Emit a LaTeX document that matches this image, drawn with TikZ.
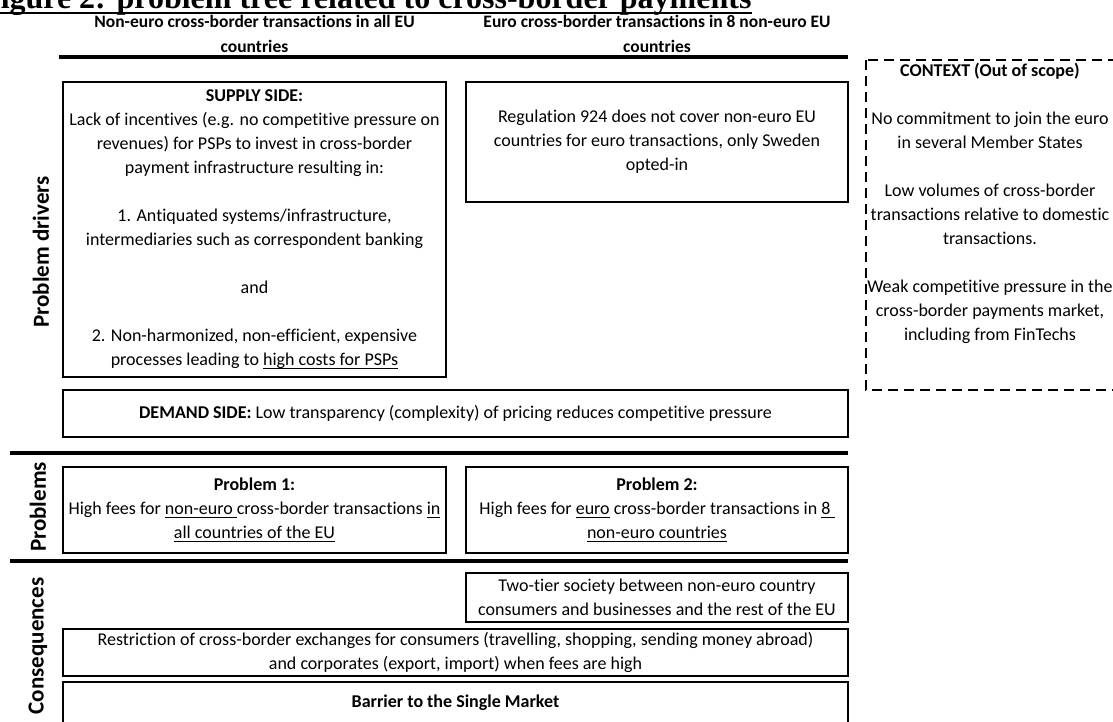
\documentclass[tikz,border=0pt]{standalone}
\usepackage{fontspec}
\setmainfont{Carlito}[Ligatures=NoCommon]
\newfontfamily\titlefont{Liberation Serif}
\usetikzlibrary{calc}
\newsavebox{\myulbox}
\newcommand\myul[1]{\sbox\myulbox{#1}\rlap{\rule[-3.5pt]{\wd\myulbox}{1.4pt}}\usebox\myulbox}
\begin{document}
\begin{tikzpicture}[x=1pt,y=-1pt,
  font=\fontsize{18}{24}\selectfont,
  box/.style={draw, line width=2pt, inner sep=0pt, align=center},
  sepline/.style={line width=3.5pt},
  side/.style={rotate=90, font=\fontsize{23}{28}\selectfont\bfseries},
  head/.style={align=center, font=\fontsize{17.5}{25}\selectfont\bfseries},
  ctx/.style={draw, line width=2pt, dash pattern=on 10pt off 6pt}]
\useasboundingbox (0,0) rectangle (1113,722);

% title (cut by the page edge)
\node[anchor=base west, inner sep=0pt, font=\fontsize{32}{36}\selectfont\titlefont\bfseries] (title) at (-19,9) {Figure 2: problem tree related to cross-border payments};
\draw[line width=2pt] ($(title.base west)+(0,4)$) -- ($(title.base east)+(0,4)$);

% column headers
\node[head] (h1) at (254.5,34) {Non-euro cross-border transactions in all EU\\countries};
\node[head] (h2) at (657,34) {Euro cross-border transactions in 8 non-euro EU\\countries};

% separators
\draw[sepline] (59,57) -- (848,57);
\draw[sepline] (10,453) -- (848,453);
\draw[sepline] (10,561) -- (848,561);

% side labels
\node[side] (lbl1) at (41,252) {Problem drivers};
\node[side] (lbl2) at (38,507) {Problems};
\node[side] (lbl3) at (38,646) {Consequences};

% problem drivers
\node[box, minimum width=383pt, minimum height=295pt] (supply) at (254.5,229.5) {\textbf{SUPPLY SIDE:}\\
Lack of incentives (e.g. no competitive pressure on\\
revenues) for PSPs to invest in cross-border\\
payment infrastructure resulting in:\\[24pt]
1. Antiquated systems/infrastructure,\\
intermediaries such as correspondent banking\\[24pt]
and\\[24pt]
2. Non-harmonized, non-efficient, expensive\\
processes leading to \myul{high costs for PSPs}};

\node[box, minimum width=382pt, minimum height=120pt] (reg) at (657,142) {Regulation 924 does not cover non-euro EU\\
countries for euro transactions, only Sweden\\
opted-in};

\draw[ctx] (866,60) rectangle (1118,390);
\node[align=center] (context) at (990,203) {\textbf{CONTEXT (Out of scope)}\\[24pt]
No commitment to join the euro\\
in several Member States\\[24pt]
Low volumes of cross-border\\
transactions relative to domestic\\
transactions.\\[24pt]
Weak competitive pressure in the\\
cross-border payments market,\\
including from FinTechs};

\node[box, minimum width=785pt, minimum height=47pt] (demand) at (455.5,413.5) {\textbf{DEMAND SIDE:} Low transparency (complexity) of pricing reduces competitive pressure};

% problems
\node[box, minimum width=383pt, minimum height=86pt] (p1) at (254.5,510) {\textbf{Problem 1:}\\
High fees for \myul{non-euro }cross-border transactions \myul{in}\\
\myul{all countries of the EU}};
\node[box, minimum width=382pt, minimum height=86pt] (p2) at (657,510) {\textbf{Problem 2:}\\
High fees for \myul{euro} cross-border transactions in \myul{8 }\\
\myul{non-euro countries}};

% consequences
\node[box, minimum width=382pt, minimum height=49pt] (tier) at (657,597.5) {Two-tier society between non-euro country\\
consumers and businesses and the rest of the EU};
\node[box, minimum width=785pt, minimum height=47pt] (restr) at (455.5,652.5) {Restriction of cross-border exchanges for consumers (travelling, shopping, sending money abroad)\\
and corporates (export, import) when fees are high};
\node[box, anchor=north, minimum width=785pt, minimum height=64pt] (barrier) at (455.5,681) {};
\node (barriertext) at (455.5,703) {\textbf{Barrier to the Single Market}};
\end{tikzpicture}
\end{document}
